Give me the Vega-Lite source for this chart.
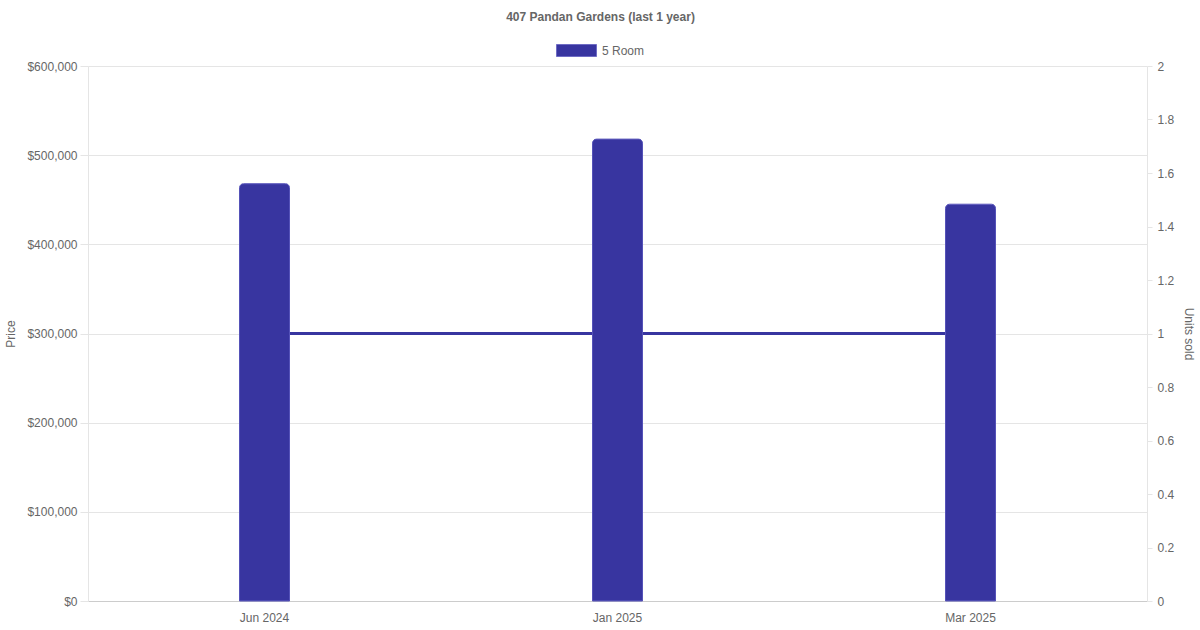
{
  "$schema": "https://vega.github.io/schema/vega-lite/v6.json",
  "autosize": {"type": "none"},
  "width": 1059,
  "height": 535,
  "padding": {"left": 88, "top": 66, "right": 53, "bottom": 29},
  "background": "white",
  "title": {
    "text": "407 Pandan Gardens (last 1 year)",
    "fontSize": 12,
    "fontWeight": "bold",
    "color": "#666666",
    "font": "Liberation Sans",
    "offset": 6,
    "dx": -17
  },
  "data": {
    "values": [
      {"month": "Jun 2024", "price": 468000, "units": 1, "type": "5 Room"},
      {"month": "Jan 2025", "price": 518000, "units": 1, "type": "5 Room"},
      {"month": "Mar 2025", "price": 445000, "units": 1, "type": "5 Room"}
    ]
  },
  "encoding": {
    "x": {
      "field": "month",
      "type": "ordinal",
      "sort": null,
      "scale": {"paddingInner": 0, "paddingOuter": 0},
      "axis": {
        "title": null,
        "labelAngle": 0,
        "ticks": false,
        "labelPadding": 11,
        "domainColor": "#cccccc",
        "grid": false
      }
    }
  },
  "layer": [
    {
      "mark": {"type": "line", "color": "#3835a0", "strokeWidth": 3},
      "encoding": {
        "y": {
          "field": "units",
          "type": "quantitative",
          "scale": {"domain": [0, 2]},
          "axis": {
            "orient": "right",
            "title": "Units sold",
            "titleAngle": 90,
            "titlePadding": 8,
            "values": [0, 0.2, 0.4, 0.6, 0.8, 1, 1.2, 1.4, 1.6, 1.8, 2],
            "format": "~g",
            "grid": false,
            "tickSize": 5,
            "labelPadding": 5
          }
        }
      }
    },
    {
      "mark": {
        "type": "bar",
        "width": 50,
        "cornerRadiusTopLeft": 4,
        "cornerRadiusTopRight": 4,
        "stroke": "#5552b8",
        "strokeWidth": 1
      },
      "encoding": {
        "y": {
          "field": "price",
          "type": "quantitative",
          "scale": {"domain": [0, 600000]},
          "axis": {
            "orient": "left",
            "title": "Price",
            "titlePadding": 9,
            "values": [0, 100000, 200000, 300000, 400000, 500000, 600000],
            "format": "$,.0f",
            "grid": true,
            "tickSize": 8,
            "labelPadding": 3
          }
        },
        "color": {
          "field": "type",
          "type": "nominal",
          "scale": {"range": ["#3835a0"]},
          "legend": {
            "title": null,
            "orient": "none",
            "legendX": 468,
            "legendY": -36,
            "symbolType": "M-1,-0.3L1,-0.3L1,0.3L-1,0.3Z",
            "symbolSize": 1600,
            "symbolStrokeColor": "#6f6cc4",
            "symbolStrokeWidth": 1,
            "symbolOpacity": 1,
            "labelFontSize": 12,
            "labelColor": "#666666",
            "labelOffset": 5
          }
        }
      }
    }
  ],
  "resolve": {"scale": {"y": "independent"}},
  "config": {
    "font": "Liberation Sans",
    "view": {"stroke": null},
    "axis": {
      "labelFont": "Liberation Sans",
      "labelFontSize": 12,
      "labelColor": "#666666",
      "titleFont": "Liberation Sans",
      "titleFontSize": 12,
      "titleFontWeight": "normal",
      "titleColor": "#666666",
      "gridColor": "#e5e5e5",
      "tickColor": "#e5e5e5",
      "domainColor": "#e5e5e5"
    },
    "legend": {"labelFont": "Liberation Sans"}
  }
}
